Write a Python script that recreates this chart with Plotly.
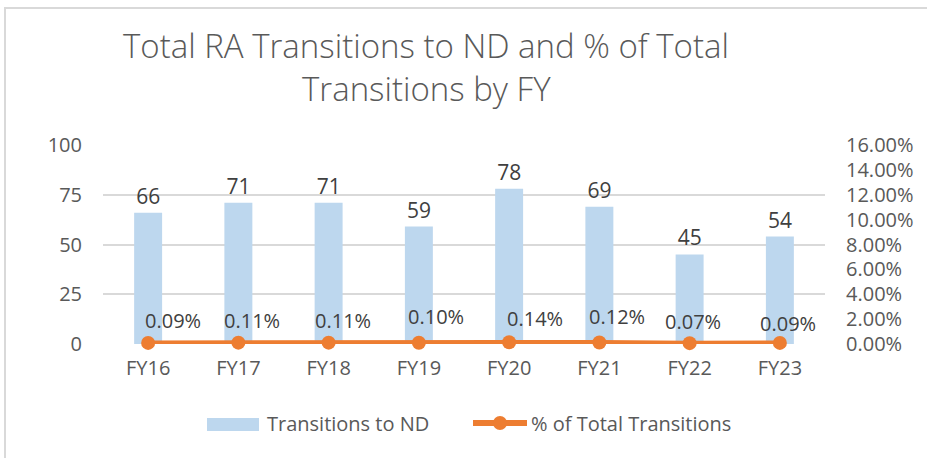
import plotly.graph_objects as go

# data
fiscal_years = ['FY16', 'FY17', 'FY18', 'FY19', 'FY20', 'FY21', 'FY22', 'FY23']
transitions_to_nd = [66, 71, 71, 59, 78, 69, 45, 54]
pct_of_total = [0.0009, 0.0011, 0.0011, 0.0010, 0.0014, 0.0012, 0.0007, 0.0009]
title_lines = ['Total RA Transitions to ND and % of Total', 'Transitions by FY']
series_names = ['Transitions to ND', '% of Total Transitions']

BAR_COLOR = '#BDD7EE'
LINE_COLOR = '#ED7D31'
TEXT_COLOR = '#595959'
LABEL_COLOR = '#404040'
GRID_COLOR = '#D9D9D9'
FONT = 'Open Sans'

W, H = 927, 458
L, R, T, B = 103, 102, 145, 114
pw, ph = W - L - R, H - T - B


def px_x(px):
    # pixel column -> paper x
    return (px - L) / pw


def px_y(py):
    # pixel row (from top) -> paper y
    return (H - B - py) / ph


fig = go.Figure()

fig.add_trace(go.Bar(
    x=fiscal_years, y=transitions_to_nd, name=series_names[0],
    marker=dict(color=BAR_COLOR, line=dict(width=0)),
    text=[str(v) for v in transitions_to_nd], textposition='outside',
    textfont=dict(family=FONT, size=21, color=LABEL_COLOR),
    cliponaxis=False,
))

fig.add_trace(go.Scatter(
    x=fiscal_years, y=pct_of_total, name=series_names[1], yaxis='y2',
    mode='lines+markers',
    line=dict(color=LINE_COLOR, width=5),
    marker=dict(color=LINE_COLOR, size=14),
    cliponaxis=False,
))

# percent labels sit a bit right of each marker, as placed in the original
label_xshift = [25, 14, 14, 17, 26, 18, 3, 8]
label_yshift = [22, 22, 22, 26, 24, 26, 22, 19]
for fy, p, dx, dy in zip(fiscal_years, pct_of_total, label_xshift, label_yshift):
    fig.add_annotation(
        x=fy, y=p, xref='x', yref='y2', text=f'{p * 100:.2f}%',
        showarrow=False, xshift=dx, yshift=dy,
        font=dict(family=FONT, size=20, color=LABEL_COLOR),
    )

# two-line title
for line, cy in zip(title_lines, [45, 89]):
    fig.add_annotation(
        x=px_x(426), y=px_y(cy), xref='paper', yref='paper', text=line,
        showarrow=False, xanchor='center', yanchor='middle',
        font=dict(family=FONT, size=33, color=TEXT_COLOR, weight=300),
    )

# Excel-style legend: wide bar swatch, line-with-dot swatch
fig.add_shape(type='rect', xref='paper', yref='paper',
              x0=px_x(207), x1=px_x(259), y0=px_y(431), y1=px_y(418),
              fillcolor=BAR_COLOR, line=dict(width=0))
fig.add_shape(type='line', xref='paper', yref='paper',
              x0=px_x(473), x1=px_x(527), y0=px_y(423), y1=px_y(423),
              line=dict(color=LINE_COLOR, width=6))
fig.add_shape(type='circle', xref='paper', yref='paper',
              x0=px_x(493), x1=px_x(507), y0=px_y(430), y1=px_y(416),
              fillcolor=LINE_COLOR, line=dict(width=0))
for name, lx in zip(series_names, [265, 529]):
    fig.add_annotation(
        x=px_x(lx), y=px_y(423), xref='paper', yref='paper', text=name,
        showarrow=False, xanchor='left', yanchor='middle',
        font=dict(family=FONT, size=20, color=TEXT_COLOR),
    )

# chart frame (light grey border, cropped on the right/bottom in the source)
fig.add_shape(
    type='rect', xref='paper', yref='paper',
    x0=px_x(5), x1=px_x(W + 20), y0=px_y(H + 20), y1=px_y(8),
    line=dict(color=GRID_COLOR, width=2), layer='below',
)

fig.update_layout(
    width=W, height=H,
    margin=dict(l=L, r=R, t=T, b=B),
    paper_bgcolor='white', plot_bgcolor='white',
    font=dict(family=FONT, color=TEXT_COLOR),
    bargap=0.69,
    showlegend=False,
    xaxis=dict(
        showline=False, showgrid=False, zeroline=False, ticks='',
        ticklabelstandoff=10,
        tickfont=dict(family=FONT, size=20, color=TEXT_COLOR),
    ),
    yaxis=dict(
        range=[0, 100], dtick=25, showgrid=True, gridcolor=GRID_COLOR, gridwidth=1.5,
        zeroline=False, showline=False, ticks='', ticklabelstandoff=20,
        tickfont=dict(family=FONT, size=20, color=TEXT_COLOR),
    ),
    yaxis2=dict(
        range=[0, 0.16], dtick=0.02, tickformat='.2%', overlaying='y', side='right',
        showgrid=False, zeroline=False, showline=False, ticks='', ticklabelstandoff=20,
        tickfont=dict(family=FONT, size=20, color=TEXT_COLOR),
    ),
)

# page body has a default 8px margin; drop it so the figure sits at the corner
fig.write_html('out.html', config={'displayModeBar': False},
               post_script="document.body.style.margin='0';")
